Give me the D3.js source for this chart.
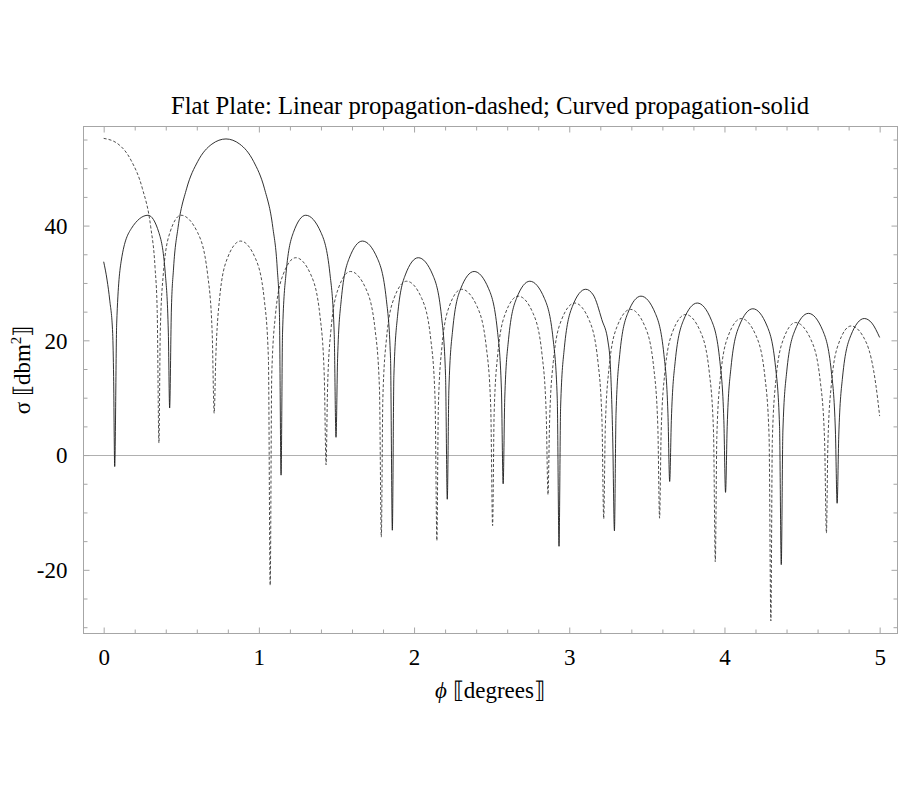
<!DOCTYPE html>
<html>
<head>
<meta charset="utf-8">
<script src="https://cdn.jsdelivr.net/npm/d3@7"></script>
<style>
  html, body { margin: 0; padding: 0; background: #fff; }
  svg { display: block; }
  text { font-family: "Liberation Serif", "Times New Roman", "DejaVu Serif", serif; fill: #000; }
</style>
</head>
<body>
<svg id="chart" width="900" height="800"></svg>
<script>
// ---------------- data ----------------
const chartTitle = "Flat Plate: Linear propagation-dashed; Curved propagation-solid";
const xTickLabels = [0, 1, 2, 3, 4, 5];
const yTickLabels = [-20, 0, 20, 40];

// Linear propagation (dashed): phi in degrees, sigma in dBm^2
const linearX = [
  0, 0.089, 0.178, 0.249, 0.303, 0.331, 0.345, 0.356,
  0.3645, 0.3844, 0.427, 0.498, 0.605, 0.6692, 0.6992, 0.712,
  0.7222, 0.746, 0.797, 0.882, 0.9775, 1.0348, 1.0615, 1.073,
  1.0829, 1.106, 1.1555, 1.238, 1.3355, 1.394, 1.4213, 1.433,
  1.4424, 1.4644, 1.5115, 1.590, 1.6895, 1.7492, 1.7771, 1.789,
  1.7988, 1.8216, 1.8705, 1.952, 2.0495, 2.108, 2.1353, 2.147,
  2.1565, 2.1788, 2.2265, 2.306, 2.406, 2.466, 2.494, 2.506,
  2.5159, 2.539, 2.5885, 2.671, 2.767, 2.8246, 2.8515, 2.863,
  2.8733, 2.8974, 2.949, 3.035, 3.1285, 3.1846, 3.2108, 3.222,
  3.2323, 3.2564, 3.308, 3.394, 3.488, 3.5444, 3.5707, 3.582,
  3.5921, 3.6156, 3.666, 3.750, 3.8455, 3.9028, 3.9295, 3.941,
  3.951, 3.9744, 4.0245, 4.108, 4.2035, 4.2608, 4.2875, 4.299,
  4.3085, 4.3308, 4.3785, 4.458, 4.5575, 4.6172, 4.6451, 4.657,
  4.6665, 4.6888, 4.7365, 4.816, 4.9155, 4.9752, 5.0
];
const linearY = [
  55.2, 54.3, 51.3, 46.5, 39.8, 32.7, 25.0, 2.1,
  21.3, 31.6, 38.8, 41.8, 38.8, 31.6, 21.3, 7.3,
  16.8, 27.1, 34.3, 37.3, 34.3, 27.1, 16.8, -22.7,
  13.9, 24.2, 31.4, 34.4, 31.4, 24.2, 13.9, -1.7,
  11.5, 21.8, 29.0, 32.0, 29.0, 21.8, 11.5, -14.3,
  9.8, 20.1, 27.3, 30.3, 27.3, 20.1, 9.8, -14.9,
  8.4, 18.7, 25.9, 28.9, 25.9, 18.7, 8.4, -12.3,
  7.2, 17.5, 24.7, 27.7, 24.7, 17.5, 7.2, -6.9,
  6.0, 16.3, 23.5, 26.5, 23.5, 16.3, 6.0, -11.1,
  4.9, 15.2, 22.4, 25.4, 22.4, 15.2, 4.9, -11.0,
  4.0, 14.3, 21.5, 24.5, 21.5, 14.3, 4.0, -18.6,
  3.3, 13.6, 20.8, 23.8, 20.8, 13.6, 3.3, -28.9,
  2.6, 12.9, 20.1, 23.1, 20.1, 12.9, 2.6, -13.6,
  2.0, 12.3, 19.5, 22.5, 19.5, 12.3, 6.8
];

// Curved propagation (solid)
const curvedX = [
  0, 0.022, 0.039, 0.058, 0.064, 0.071,
  0.0839, 0.114, 0.1785, 0.286, 0.3555, 0.3972, 0.4167, 0.425,
  0.4359, 0.4504, 0.4795, 0.5339, 0.6065, 0.6973, 0.788, 0.8768, 0.9655, 1.0365, 1.0898, 1.1182, 1.1324, 1.143,
  1.1525, 1.1748, 1.2225, 1.302, 1.4, 1.458, 1.4853, 1.497,
  1.5072, 1.531, 1.582, 1.667, 1.7635, 1.8214, 1.8484, 1.860,
  1.87, 1.8934, 1.9435, 2.027, 2.1205, 2.1766, 2.2028, 2.214,
  2.2244, 2.2486, 2.3005, 2.387, 2.4805, 2.5366, 2.5628, 2.574,
  2.5843, 2.6084, 2.66, 2.746, 2.84, 2.8964, 2.9227, 2.934,
  2.9443, 2.9684, 3.02, 3.106, 3.155, 3.21, 3.25, 3.265, 3.28, 3.291,
  3.3013, 3.3252, 3.3765, 3.462, 3.5545, 3.61, 3.6359, 3.647,
  3.6577, 3.6826, 3.736, 3.825, 3.916, 3.9706, 3.9961, 4.007,
  4.0176, 4.0422, 4.095, 4.183, 4.2745, 4.3294, 4.355, 4.366,
  4.3765, 4.401, 4.4535, 4.541, 4.6335, 4.689, 4.7149, 4.726,
  4.7365, 4.761, 4.8135, 4.901, 4.95, 5.0
];
const curvedY = [
  33.7, 30.5, 27.0, 21.2, 13.7, -2.0,
  23.0, 34.0, 39.5, 41.8, 38.8, 31.6, 21.3, 8.2,
  24.9, 32.6, 39.7, 46.4, 51.2, 54.2, 55.1, 54.2, 51.2, 46.4, 39.7, 32.6, 24.9, -3.5,
  21.3, 31.6, 38.8, 41.8, 38.8, 31.6, 21.3, 3.1,
  16.8, 27.1, 34.3, 37.3, 34.3, 27.1, 16.8, -13.1,
  13.9, 24.2, 31.4, 34.4, 31.4, 24.2, 13.9, -7.7,
  11.5, 21.8, 29.0, 32.0, 29.0, 21.8, 11.5, -5.0,
  9.8, 20.1, 27.3, 30.3, 27.3, 20.1, 9.8, -15.9,
  8.4, 18.7, 25.9, 28.9, 27.9, 23.6, 19.7, 15.5, 3.0, -13.2,
  7.2, 17.5, 24.7, 27.7, 24.7, 17.5, 7.2, -4.6,
  6.0, 16.3, 23.5, 26.5, 23.5, 16.3, 6.0, -6.5,
  5.0, 15.3, 22.5, 25.5, 22.5, 15.3, 5.0, -19.1,
  4.2, 14.5, 21.7, 24.7, 21.7, 14.5, 4.2, -8.4,
  3.3, 13.6, 20.8, 23.8, 23.0, 20.5
];

// ---------------- layout ----------------
const frame = { left: 83.5, right: 897.5, top: 126.5, bottom: 633.5 };
const xDomain = [-0.13, 5.115];
const yDomain = [-31.1, 57.27];

const svg = d3.select("#chart");
const x = d3.scaleLinear().domain(xDomain).range([frame.left, frame.right]);
const y = d3.scaleLinear().domain(yDomain).range([frame.bottom, frame.top]);

const frameColor = "#a6a6a6";
const fmt = d => String(d); // plain hyphen for negatives, as in the reference

svg.append("defs").append("clipPath").attr("id", "plotclip")
  .append("rect")
  .attr("x", frame.left).attr("y", frame.top)
  .attr("width", frame.right - frame.left).attr("height", frame.bottom - frame.top);

// zero axis line
svg.append("line")
  .attr("x1", frame.left).attr("x2", frame.right)
  .attr("y1", Math.round(y(0)) + 0.5).attr("y2", Math.round(y(0)) + 0.5)
  .attr("stroke", "#b0b0b0").attr("stroke-width", 1);

// ticks on all four sides
const xMajor = xTickLabels;
const xMinor = d3.range(0, 5.0001, 0.2).filter(v => Math.abs(v - Math.round(v)) > 1e-6);
const yMajor = yTickLabels;
const yMinor = d3.range(-30, 55.001, 5).filter(v => yMajor.indexOf(v) < 0);

function tickAxis(axisFn, scale, values, size, transform) {
  const g = svg.append("g").attr("transform", transform)
    .call(axisFn(scale).tickValues(values).tickSize(size).tickFormat(""));
  g.select(".domain").remove();
  g.selectAll(".tick line").attr("stroke", frameColor).attr("stroke-width", 1);
  return g;
}
tickAxis(d3.axisTop, x, xMajor, 6, `translate(0,${frame.bottom})`);
tickAxis(d3.axisTop, x, xMinor, 4, `translate(0,${frame.bottom})`);
tickAxis(d3.axisBottom, x, xMajor, 6, `translate(0,${frame.top})`);
tickAxis(d3.axisBottom, x, xMinor, 4, `translate(0,${frame.top})`);
tickAxis(d3.axisRight, y, yMajor, 6, `translate(${frame.left},0)`);
tickAxis(d3.axisRight, y, yMinor, 4, `translate(${frame.left},0)`);
tickAxis(d3.axisLeft, y, yMajor, 6, `translate(${frame.right},0)`);
tickAxis(d3.axisLeft, y, yMinor, 4, `translate(${frame.right},0)`);

// frame
svg.append("rect")
  .attr("x", frame.left).attr("y", frame.top)
  .attr("width", frame.right - frame.left).attr("height", frame.bottom - frame.top)
  .attr("fill", "none").attr("stroke", frameColor).attr("stroke-width", 1);

// tick labels
const xLab = svg.append("g").attr("transform", `translate(0,${frame.bottom})`)
  .call(d3.axisBottom(x).tickValues(xTickLabels).tickSize(0).tickPadding(0).tickFormat(fmt));
xLab.select(".domain").remove();
xLab.selectAll("text").attr("font-size", 23).attr("dy", null).attr("y", 31)
  .style("font-family", "'Liberation Serif', serif").attr("fill", "#000");

const yLab = svg.append("g").attr("transform", `translate(${frame.left},0)`)
  .call(d3.axisLeft(y).tickValues(yTickLabels).tickSize(0).tickPadding(0).tickFormat(fmt));
yLab.select(".domain").remove();
yLab.selectAll("text").attr("font-size", 23).attr("dy", "0.34em").attr("x", -16)
  .style("font-family", "'Liberation Serif', serif").attr("fill", "#000");

// curves
const line = d3.line().x(d => x(d[0])).y(d => y(d[1])).curve(d3.curveMonotoneX);
const linearPts = d3.zip(linearX, linearY);
const curvedPts = d3.zip(curvedX, curvedY);

const plot = svg.append("g").attr("clip-path", "url(#plotclip)");
plot.append("path").datum(linearPts)
  .attr("d", line).attr("fill", "none")
  .attr("stroke", "#3a3a3a").attr("stroke-width", 0.9)
  .attr("stroke-dasharray", "3,2");
plot.append("path").datum(curvedPts)
  .attr("d", line).attr("fill", "none")
  .attr("stroke", "#1a1a1a").attr("stroke-width", 0.9);

// title
svg.append("text")
  .attr("x", 490).attr("y", 114)
  .attr("text-anchor", "middle").attr("font-size", 25)
  .attr("textLength", 638).attr("lengthAdjust", "spacingAndGlyphs")
  .text(chartTitle);

// x axis label
const xl = svg.append("text")
  .attr("x", 490).attr("y", 698)
  .attr("text-anchor", "middle").attr("font-size", 23);
xl.append("tspan").style("font-style", "italic").text("ϕ");
xl.append("tspan").text(" ⟦degrees⟧");

// y axis label
const yl = svg.append("text")
  .attr("transform", "translate(30,370) rotate(-90)")
  .attr("text-anchor", "middle").attr("font-size", 23);
yl.append("tspan").text("σ ⟦dbm");
yl.append("tspan").attr("font-size", 15).attr("dy", -9).text("2");
yl.append("tspan").attr("dy", 9).text("⟧");
</script>
</body>
</html>
